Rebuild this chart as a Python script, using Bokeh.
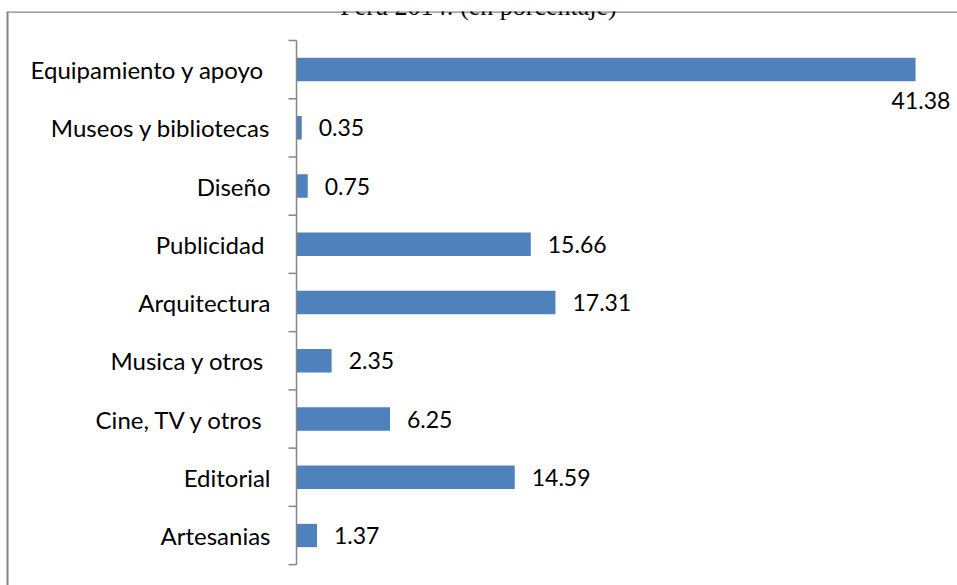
from bokeh.plotting import figure
from bokeh.models import Range1d, ColumnDataSource, Label
from bokeh.core.properties import value
from bokeh.embed import file_html
from bokeh.resources import INLINE

categories = ["Artesanias", "Editorial", "Cine, TV y otros ", "Musica y otros ", "Arquitectura",
              "Publicidad ", "Diseño", "Museos y bibliotecas", "Equipamiento y apoyo "]
values = [1.37, 14.59, 6.25, 2.35, 17.31, 15.66, 0.75, 0.35, 41.38]
title_text = "Perú 2014: (en porcentaje)"

W, H = 957, 585
frame_left, frame_top = 6, 11
axis_px = 296            # pixel position of the value axis origin
px_per_unit = 14.96      # horizontal scale
cat_px = 58.25           # category height in px
top_center_px = 69       # centre of the top category
n = len(categories)

x_start = -(axis_px - frame_left) / px_per_unit
x_end = (W - axis_px) / px_per_unit
y_end = (n - 1) + (top_center_px - frame_top) / cat_px
y_start = y_end - (H - frame_top) / cat_px

p = figure(width=W, height=H, output_backend="svg", toolbar_location=None,
           x_range=Range1d(x_start, x_end), y_range=Range1d(y_start, y_end),
           min_border_left=frame_left, min_border_top=frame_top,
           min_border_right=0, min_border_bottom=0)
p.xaxis.visible = False
p.yaxis.visible = False
p.xgrid.visible = False
p.ygrid.visible = False
p.outline_line_color = None
p.background_fill_color = "white"
p.border_fill_color = "white"

# chart-area border: only top and left edges are inside the picture
p.segment(x0=[x_start], y0=[y_start], x1=[x_start], y1=[y_end], line_color="#868686", line_width=4)
p.segment(x0=[x_start], y0=[y_end], x1=[x_end], y1=[y_end], line_color="#868686", line_width=2.6)

ys = list(range(n))
src = ColumnDataSource(dict(y=ys, v=values, cat=categories))

p.hbar(y="y", left=0, right="v", height=0.4, source=src,
       fill_color="#4F81BD", line_color=None)

# axis line + ticks
p.segment(x0=[0], y0=[-0.5], x1=[0], y1=[n - 0.5], line_color="#868686", line_width=1.5)
p.ray(x=[0] * (n + 1), y=[k - 0.5 for k in range(n + 1)], length=8, length_units="screen",
      angle=3.14159265, line_color="#868686", line_width=1.5)

font = value("Lato")
p.text(x=0, y="y", text="cat", source=src, x_offset=-26, text_align="right",
       text_baseline="middle", text_font=font, text_font_size="24px", text_color="black")

vmax = max(values)
inside = [i for i, v in enumerate(values) if v != vmax]
big = [i for i, v in enumerate(values) if v == vmax]
p.text(x=[values[i] for i in inside], y=[ys[i] for i in inside],
       text=[f"{values[i]:.2f}" for i in inside], x_offset=17, text_align="left",
       text_baseline="middle", text_font=font, text_font_size="23px", text_color="black")
p.text(x=[values[i] for i in big], y=[ys[i] for i in big],
       text=[f"{values[i]:.2f}" for i in big], x_offset=-24, y_offset=31, text_align="left",
       text_baseline="middle", text_font=font, text_font_size="23px", text_color="black")

title_x = (478 - axis_px) / px_per_unit
title_y = y_end + 5 / cat_px
p.add_layout(Label(x=title_x, y=title_y, text=title_text, text_align="center",
                   text_baseline="alphabetic", text_font="Liberation Serif",
                   text_font_size="26px", text_color="black"))

open("out.html", "w").write(file_html(p, INLINE))
